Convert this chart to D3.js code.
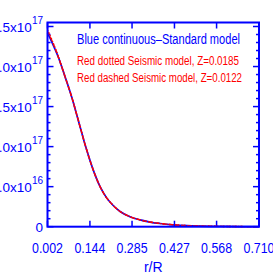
<!DOCTYPE html>
<html>
<head>
<meta charset="utf-8">
<script src="https://cdn.jsdelivr.net/npm/d3@7"></script>
<style>
    body { margin: 0; background: #fff; }
    svg { display: block; }
    text { font-family: "Liberation Sans", Arial, sans-serif; }
</style>
</head>
<body>
<svg id="chart"></svg>
<script>
(function(){
    "use strict";

    // r/R grid and profiles (units of 1e17)
    var radius = [0.002, 0.016, 0.038, 0.061, 0.083, 0.105, 0.133, 0.155, 0.178,
                  0.200, 0.222, 0.245, 0.278, 0.312, 0.345, 0.379, 0.422, 0.470, 0.513, 0.600, 0.710];
    var standardModel = [2.42, 2.31, 2.12, 1.87, 1.62, 1.33, 0.96, 0.71, 0.50,
                         0.36, 0.265, 0.19, 0.125, 0.085, 0.058, 0.040, 0.024, 0.013, 0.008, 0.003, 0.001];
    var seismicZ0185 = [2.46, 2.34, 2.13, 1.87, 1.62, 1.33, 0.96, 0.71, 0.50,
                        0.36, 0.265, 0.19, 0.125, 0.085, 0.058, 0.040, 0.024, 0.013, 0.008, 0.003, 0.001];
    var seismicZ0122 = [2.44, 2.33, 2.12, 1.87, 1.62, 1.33, 0.96, 0.71, 0.50,
                        0.36, 0.265, 0.19, 0.125, 0.085, 0.058, 0.040, 0.024, 0.013, 0.008, 0.003, 0.001];

    var xTicks = [0.002, 0.144, 0.285, 0.427, 0.568, 0.710];
    var yTicks = [0, 0.5, 1.0, 1.5, 2.0, 2.5];
    var yTickLabels = [
        {main: "0", sup: ""},
        {main: "5.0x10", sup: "16"},
        {main: "1.0x10", sup: "17"},
        {main: "1.5x10", sup: "17"},
        {main: "2.0x10", sup: "17"},
        {main: "2.5x10", sup: "17"}
    ];
    var legendLines = [
        "Blue continuous\u2013Standard model",
        "Red dotted Seismic model, Z=0.0185",
        "Red dashed Seismic model, Z=0.0122"
    ];

    var width = 273,
        height = 273,
        left = 47.5, right = 259,
        top = 22.5, bottom = 226.7,
        blue = "#0000ff", red = "#ff0000";

    var svg = d3.select("svg#chart")
        .attr("width", width)
        .attr("height", height);

    var x = d3.scaleLinear().domain([0.002, 0.710]).range([left, right]);
    var y = d3.scaleLinear().domain([0, 2.55]).range([bottom, top]);

    // minor y ticks every 0.1
    var yMinor = d3.range(0, 2.55, 0.1).filter(function(v) {
        return Math.abs(v * 2 - Math.round(v * 2)) > 1e-6;
    });

    var g = svg.append("g");

    // y ticks on both sides, pointing inward
    [[left, 1], [right, -1]].forEach(function(side) {
        g.selectAll(null).data(yTicks).enter().append("line")
            .attr("x1", side[0]).attr("x2", side[0] + side[1] * 6)
            .attr("y1", function(d) { return y(d); })
            .attr("y2", function(d) { return y(d); })
            .attr("stroke", blue).attr("stroke-width", 1.5);
        g.selectAll(null).data(yMinor).enter().append("line")
            .attr("x1", side[0]).attr("x2", side[0] + side[1] * 3)
            .attr("y1", function(d) { return y(d); })
            .attr("y2", function(d) { return y(d); })
            .attr("stroke", blue).attr("stroke-width", 1.5);
    });

    // x ticks on bottom and top
    [[bottom, -1], [top, 1]].forEach(function(side) {
        g.selectAll(null).data(xTicks).enter().append("line")
            .attr("y1", side[0]).attr("y2", side[0] + side[1] * 6)
            .attr("x1", function(d) { return x(d); })
            .attr("x2", function(d) { return x(d); })
            .attr("stroke", blue).attr("stroke-width", 1.5);
    });

    // curves
    function line(values) {
        return d3.line()
            .x(function(d, i) { return x(radius[i]); })
            .y(function(d) { return y(d); })
            .curve(d3.curveMonotoneX)(values);
    }

    g.append("path").attr("d", line(standardModel))
        .attr("fill", "none").attr("stroke", blue).attr("stroke-width", 1.7);
    g.append("path").attr("d", line(seismicZ0185))
        .attr("fill", "none").attr("stroke", red).attr("stroke-width", 1.4)
        .attr("stroke-dasharray", "1.5,1.5");
    g.append("path").attr("d", line(seismicZ0122))
        .attr("fill", "none").attr("stroke", red).attr("stroke-width", 1.4)
        .attr("stroke-dasharray", "4,2.5");

    // frame
    g.append("rect")
        .attr("x", left).attr("y", top)
        .attr("width", right - left).attr("height", bottom - top)
        .attr("fill", "none").attr("stroke", blue).attr("stroke-width", 2);

    // y tick labels (leading digit runs off the left edge, as in the original)
    var yl = svg.selectAll("text.ylab").data(yTicks).enter().append("text")
        .attr("class", "ylab")
        .attr("x", 43)
        .attr("y", function(d) { return y(d) + 5; })
        .attr("text-anchor", "end")
        .attr("fill", blue)
        .style("font-size", "13.5px");
    yl.append("tspan").text(function(d, i) { return yTickLabels[i].main; });
    yl.append("tspan")
        .attr("dy", -7.5)
        .style("font-size", "10px")
        .text(function(d, i) { return yTickLabels[i].sup; });

    // x tick labels
    svg.selectAll("text.xlab").data(xTicks).enter().append("text")
        .attr("class", "xlab")
        .attr("x", function(d) { return x(d); })
        .attr("y", 252.5)
        .attr("text-anchor", "middle")
        .attr("fill", blue)
        .style("font-size", "14px")
        .attr("textLength", 31)
        .attr("lengthAdjust", "spacingAndGlyphs")
        .text(function(d) { return d3.format(".3f")(d); });

    svg.append("text")
        .attr("x", (left + right) / 2)
        .attr("y", 272)
        .attr("text-anchor", "middle")
        .attr("fill", blue)
        .style("font-size", "14px")
        .text("r/R");

    // legend text
    svg.selectAll("text.leg").data(legendLines).enter().append("text")
        .attr("class", "leg")
        .attr("x", 77)
        .attr("y", function(d, i) { return [44, 65, 81.5][i]; })
        .attr("fill", function(d, i) { return i === 0 ? blue : red; })
        .style("font-size", function(d, i) { return i === 0 ? "14px" : "12.5px"; })
        .attr("textLength", function(d, i) { return [163, 162, 165][i]; })
        .attr("lengthAdjust", "spacingAndGlyphs")
        .text(function(d) { return d; });
})();
</script>
</body>
</html>
